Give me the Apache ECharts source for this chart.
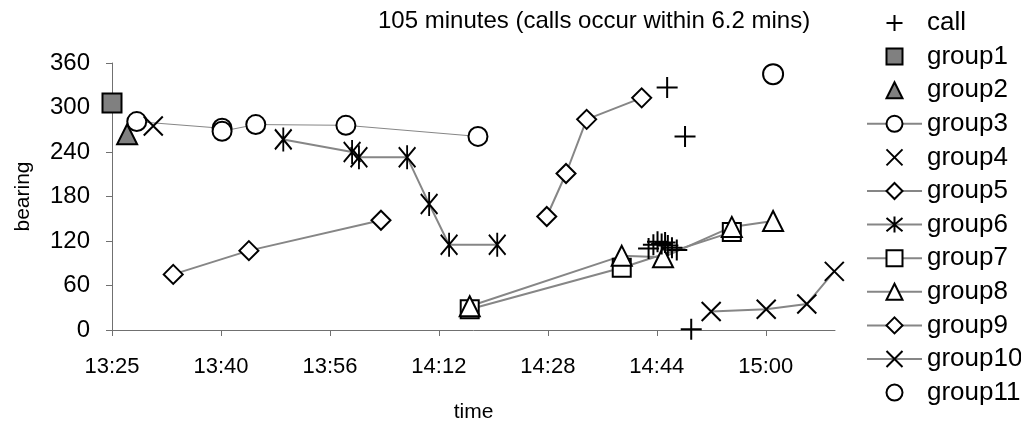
<!DOCTYPE html>
<html>
<head>
<meta charset="utf-8">
<script src="https://cdn.jsdelivr.net/npm/echarts@6/dist/echarts.min.js"></script>
<style>html,body{margin:0;padding:0;background:#fff;}#c{width:1021px;height:428px;}</style>
</head>
<body>
<div id="c"></div>
<script>
// x values: minutes after 13:25
var tickLabels = ['13:25', '13:40', '13:56', '14:12', '14:28', '14:44', '15:00'];
var tickStep = 15.84; // minutes between labelled ticks
var xMax = 105.1;

var callX = [80.7, 83.3, 84.2, 78.0, 78.7, 79.3, 79.9, 80.4, 80.8, 81.4, 82.1];
var callY = [327, 261, 1, 110, 115, 119, 116, 118, 114, 111, 108];

var group1X = [0];        var group1Y = [306];
var group2X = [2.2];      var group2Y = [264];
var group3X = [3.6, 16.0, 16.0, 20.9, 34.0, 53.2];
var group3Y = [281, 272, 268, 277, 276, 261];
var group4X = [6.0];      var group4Y = [275];
var group5X = [8.9, 19.9, 39.1];
var group5Y = [75, 107, 148];
var group6X = [24.9, 34.9, 35.9, 42.9, 46.1, 49.0, 56.0];
var group6Y = [257, 240, 233, 233, 170, 115, 115];
var group7X = [52.0, 74.1, 90.1];
var group7Y = [28, 84, 132];
var group8X = [52.0, 74.1, 80.1, 90.1, 96.1];
var group8Y = [32, 100, 98, 139, 147];
var group9X = [63.2, 66.0, 69.0, 77.0];
var group9Y = [153, 211, 284, 313];
var group10X = [87.1, 95.1, 101.0, 105.0];
var group10Y = [25, 28, 35, 79];
var group11X = [96.1];    var group11Y = [345];

function pairs(xs, ys) { return xs.map(function (x, i) { return [x, ys[i]]; }); }

var FONT = 'Liberation Sans, Arial, sans-serif';
var PLUS = 'path://M10,0L10,20M0,10L20,10';
var CROSS = 'path://M0,0L20,20M20,0L0,20';
var STAR = 'path://M0,2L20,22M20,2L0,22M10,0L10,24';
var LINEGRAY = '#868686';

function markerStyle(fill) {
  return { color: fill, borderColor: '#000', borderWidth: 2, opacity: 1 };
}
// markers only (no connecting line)
function pointSeries(name, data, symbol, size, fill) {
  return {
    name: name, type: 'line', data: data, symbol: symbol, symbolSize: size,
    symbolKeepAspect: true, showAllSymbol: true, clip: false,
    itemStyle: markerStyle(fill),
    lineStyle: { width: 0, color: 'rgba(0,0,0,0)', opacity: 0 },
    z: 3
  };
}
function lineSeries(name, data, symbol, size, fill, lw) {
  return {
    name: name, type: 'line', data: data, symbol: symbol, symbolSize: size,
    symbolKeepAspect: true, showAllSymbol: true, clip: false,
    itemStyle: markerStyle(fill),
    lineStyle: { color: LINEGRAY, width: lw },
    z: 2
  };
}

var tickValues = tickLabels.map(function (_, i) { return +(i * tickStep).toFixed(4); });

var chart = echarts.init(document.getElementById('c'), null, { renderer: 'canvas' });
chart.setOption({
  animation: false,
  backgroundColor: '#fff',
  textStyle: { fontFamily: FONT, color: '#000' },
  title: {
    text: '105 minutes (calls occur within 6.2 mins)',
    left: 373, top: 4,
    textStyle: { fontFamily: FONT, fontSize: 24, fontWeight: 'normal', color: '#000' }
  },
  legend: {
    orient: 'vertical', left: 861, top: 5,
    itemWidth: 55, itemHeight: 20, itemGap: 7.6,
    textStyle: { fontFamily: FONT, fontSize: 26, lineHeight: 26, color: '#000' },
    data: ['call', 'group1', 'group2', 'group3', 'group4', 'group5', 'group6', 'group7', 'group8', 'group9', 'group10', 'group11']
  },
  grid: { left: 112, right: 186, top: 63, bottom: 96 },
  xAxis: {
    type: 'value', min: 0, max: xMax,
    name: 'time', nameLocation: 'middle', nameGap: 72,
    nameTextStyle: { fontFamily: FONT, fontSize: 21, color: '#000' },
    axisLine: { show: true, lineStyle: { color: '#707070', width: 1 } },
    axisTick: { show: true, length: 6, lineStyle: { color: '#707070' }, customValues: tickValues },
    axisLabel: {
      fontFamily: FONT, fontSize: 22, color: '#000', margin: 26,
      customValues: tickValues,
      formatter: function (v) {
        var i = Math.round(v / tickStep);
        return tickLabels[i] !== undefined ? tickLabels[i] : '';
      }
    },
    splitLine: { show: false }
  },
  yAxis: {
    type: 'value', min: 0, max: 360, interval: 60,
    name: 'bearing', nameLocation: 'middle', nameGap: 78, nameRotate: 90,
    nameTextStyle: { fontFamily: FONT, fontSize: 21, color: '#000' },
    axisLine: { show: true, lineStyle: { color: '#707070', width: 1 } },
    axisTick: { show: true, length: 6, inside: false, lineStyle: { color: '#707070' } },
    axisLabel: { fontFamily: FONT, fontSize: 24, color: '#000', margin: 22 },
    splitLine: { show: false }
  },
  series: [
    lineSeries('group3', pairs(group3X, group3Y), 'circle', 19, '#fff', 1),
    lineSeries('group5', pairs(group5X, group5Y), 'diamond', 19, '#fff', 2),
    lineSeries('group6', pairs(group6X, group6Y), STAR, [20, 24], 'none', 2),
    lineSeries('group7', pairs(group7X, group7Y), 'rect', 18, '#fff', 2),
    lineSeries('group8', pairs(group8X, group8Y), 'triangle', 20, '#fff', 2),
    lineSeries('group9', pairs(group9X, group9Y), 'diamond', 19, '#fff', 2),
    lineSeries('group10', pairs(group10X, group10Y), CROSS, 19, 'none', 2),
    pointSeries('call', pairs(callX, callY), PLUS, 21, 'none'),
    pointSeries('group1', pairs(group1X, group1Y), 'rect', 19, '#808080'),
    pointSeries('group2', pairs(group2X, group2Y), 'triangle', 20, '#808080'),
    pointSeries('group4', pairs(group4X, group4Y), CROSS, 19, 'none'),
    pointSeries('group11', pairs(group11X, group11Y), 'circle', 20, '#fff')
  ]
});
</script>
</body>
</html>
